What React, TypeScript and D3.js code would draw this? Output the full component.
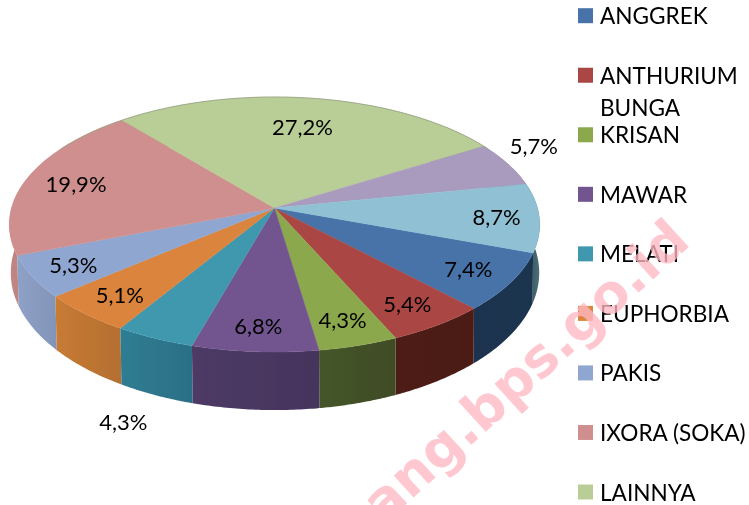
import React from "react";
import * as d3 from "d3";

const values = [7.4,5.4,4.3,6.8,4.3,5.1,5.3,19.9,27.2,5.7,8.7];
const labels = ["7,4%","5,4%","4,3%","6,8%","4,3%","5,1%","5,3%","19,9%","27,2%","5,7%","8,7%"];
const legendLines = [["ANGGREK"],["ANTHURIUM"],["BUNGA","KRISAN"],["MAWAR"],["MELATI"],["EUPHORBIA"],["PAKIS"],["IXORA (SOKA)"],["LAINNYA"]];

const topColors = ["#4673a8","#aa4644","#8ba84e","#72558f","#4198af","#db843d","#8fa6d0","#cf8f8e","#b9cd96","#a99bbd","#8fc0d4"];
const sideFrom = ["#1b3350","#4e1d19","#45552a","#4d3a66","#2e7d92","#c77b35","#8ea1c6","#c08483","#8a9a70","#7f748e","#33505c"];
const sideTo = ["#1d3450","#4b1c18","#3f4c24","#45345c","#2c6f85","#b56f30","#8294b8","#b87c7b","#8a9a70","#7f748e","#4a6e78"];
const labelRadius = [0.83,0.83,0.83,0.84,1.47,0.83,0.84,0.8,0.72,1.18,0.84];
const labelTurn = [0,0,0,0,-5,0,0,0,0,-5.2,0];

const FONT = "Lato, Carlito, sans-serif";
const W = 749, H = 505;
const P = 0.1294;
const topDisc = { cx: 274.5, cy: 208, a: 263, b: 125.4 };
const baseDisc = { cx: 275, cy: 255, a: 262, b: 135 };

function project(disc: typeof topDisc, theta: number, r = 1): [number, number] {
  const u = r * Math.sin(theta), v = -r * Math.cos(theta), w = 1 - P * v;
  return [disc.cx + (disc.a * u) / w, disc.cy + (disc.b * v) / w];
}
function rim(disc: typeof topDisc, a0: number, a1: number) {
  return d3.range(0, 41).map((i) => project(disc, a0 + ((a1 - a0) * i) / 40));
}

const deg = Math.PI / 180;
const arcs = d3.pie<number>().sort(null).startAngle(110 * deg).endAngle(470 * deg)(values);
const line = d3.line();
const legendY = d3.scalePoint<number>().domain(d3.range(9)).range([15.7, 492]);
const depth = (d: d3.PieArcDatum<number>) => -Math.cos((d.startAngle + d.endAngle) / 2);

export default function App() {
  const order = arcs.map((d, i) => ({ d, i })).sort((p, q) => depth(p.d) - depth(q.d));
  return (
    <svg width={W} height={H} viewBox={`0 0 ${W} ${H}`} style={{ position: "absolute", left: 0, top: 0, display: "block", background: "#fff" }}>
      <defs>
        {arcs.map((d, i) => {
          const xs = [...rim(topDisc, d.startAngle, d.endAngle), ...rim(baseDisc, d.startAngle, d.endAngle)].map((p) => p[0]);
          const [x0, x1] = d3.extent(xs) as [number, number];
          return (
            <linearGradient key={i} id={`side${i}`} gradientUnits="userSpaceOnUse" x1={x0} x2={x1} y1={0} y2={0}>
              <stop offset="0" stopColor={sideFrom[i]} />
              <stop offset="1" stopColor={sideTo[i]} />
            </linearGradient>
          );
        })}
        <filter id="soft" x="-5%" y="-5%" width="110%" height="110%"><feGaussianBlur stdDeviation="0.5" /></filter>
      </defs>
      <g filter="url(#soft)">
        {order.map(({ d, i }) => {
          const pts = [...rim(topDisc, d.startAngle, d.endAngle), ...rim(baseDisc, d.startAngle, d.endAngle).reverse()];
          return <path key={i} d={line(pts as [number, number][]) + "Z"} fill={`url(#side${i})`} />;
        })}
        {arcs.map((d, i) => {
          const pts = [[topDisc.cx, topDisc.cy], ...rim(topDisc, d.startAngle, d.endAngle)];
          return <path key={i} d={line(pts as [number, number][]) + "Z"} fill={topColors[i]} stroke={topColors[i]} strokeWidth={0.4} />;
        })}
        <path d={line(rim(topDisc, -60 * deg, 60 * deg) as [number, number][]) as string} fill="none" stroke="#9aa38a" strokeWidth={0.8} />
        {arcs.map((d, i) => {
          const [x, y] = project(topDisc, (d.startAngle + d.endAngle) / 2 + labelTurn[i] * deg, labelRadius[i]);
          return (
            <text key={i} x={x} y={y} textAnchor="middle" dominantBaseline="central" fontFamily={FONT} fontSize={22} fill="#000">{labels[i]}</text>
          );
        })}
        {legendLines.map((ls, i) => (
          <g key={i}>
            <rect x={578} y={legendY(i)! - 7.5} width={15} height={15} fill={topColors[i]} />
            {ls.map((t, j) => (
              <text key={j} x={600} y={legendY(i)! + (j - ls.length + 1) * 27} dominantBaseline="central" fontFamily={FONT} fontSize={22.6} fill="#000">{t}</text>
            ))}
          </g>
        ))}
      </g>
      <text transform="translate(692,244) rotate(-42.3)" textAnchor="end" fontFamily="'DejaVu Sans', sans-serif" fontWeight="bold" fontSize={54} fill="#ffb8c4" fillOpacity={0.78}>ang.bps.go.id</text>
    </svg>
  );
}
